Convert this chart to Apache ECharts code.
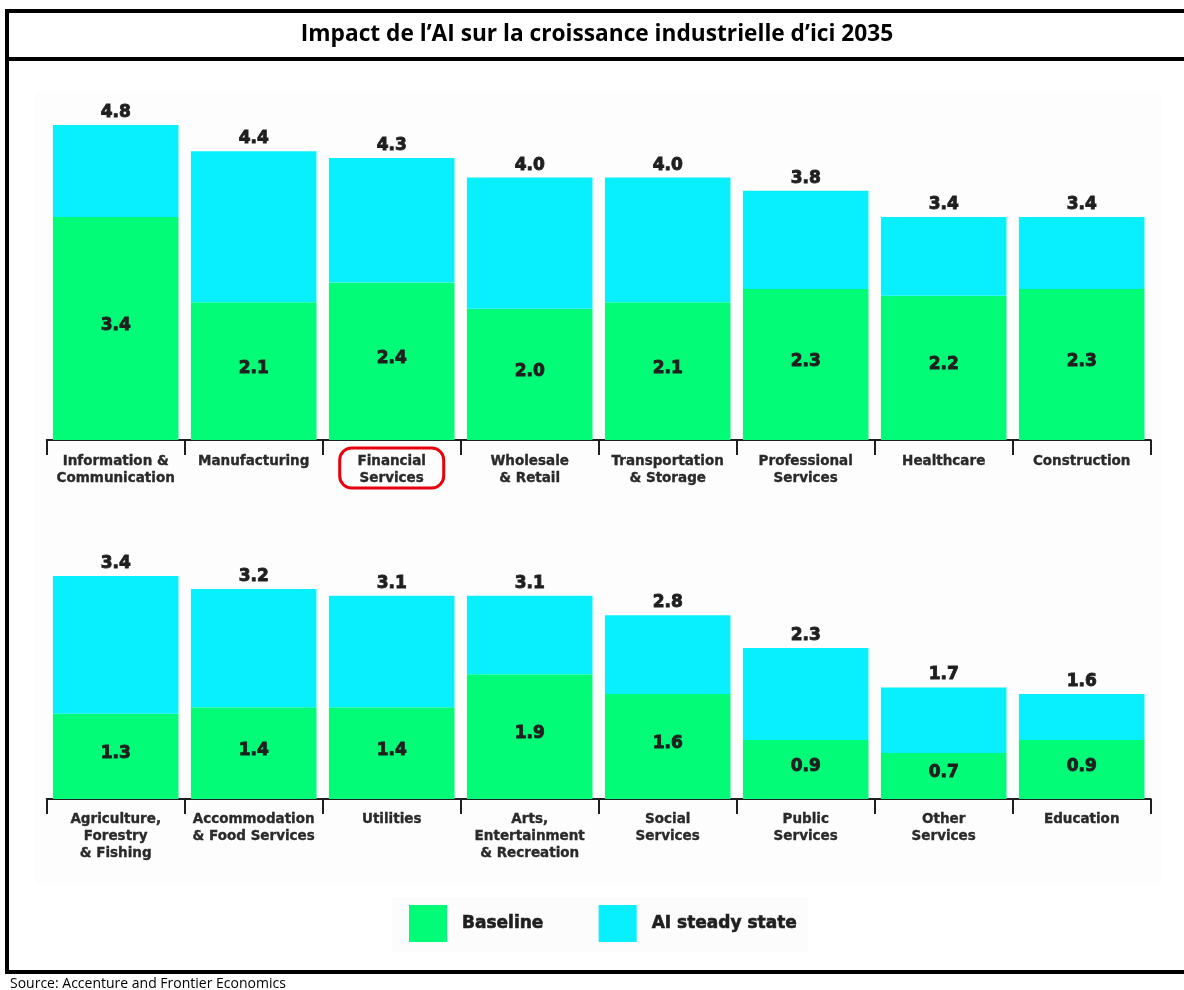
<!DOCTYPE html>
<html>
<head>
<meta charset="utf-8">
<script src="https://cdn.jsdelivr.net/npm/echarts@6/dist/echarts.min.js"></script>
<style>
  html, body { margin: 0; padding: 0; background: #ffffff; }
  #chart { width: 1184px; height: 990px; }
</style>
</head>
<body>
<div id="chart"></div>
<script>
// ---- Data ----
const titleText = 'Impact de l’AI sur la croissance industrielle d’ici 2035';
const sourceText = 'Source: Accenture and Frontier Economics';
const seriesNames = ['Baseline', 'AI steady state'];

const categoriesTop = [
  'Information &\nCommunication', 'Manufacturing', 'Financial\nServices', 'Wholesale\n& Retail',
  'Transportation\n& Storage', 'Professional\nServices', 'Healthcare', 'Construction'
];
const baselineTop = [3.4, 2.1, 2.4, 2.0, 2.1, 2.3, 2.2, 2.3];
const aiTop       = [4.8, 4.4, 4.3, 4.0, 4.0, 3.8, 3.4, 3.4];

const categoriesBottom = [
  'Agriculture,\nForestry\n& Fishing', 'Accommodation\n& Food Services', 'Utilities', 'Arts,\nEntertainment\n& Recreation',
  'Social\nServices', 'Public\nServices', 'Other\nServices', 'Education'
];
const baselineBottom = [1.3, 1.4, 1.4, 1.9, 1.6, 0.9, 0.7, 0.9];
const aiBottom       = [3.4, 3.2, 3.1, 3.1, 2.8, 2.3, 1.7, 1.6];

const highlightedCategory = 'Financial\nServices';

// ---- Styles ----
const GREEN = '#02fc78';
const CYAN = '#08f0fe';
const TEXT = '#1f1f1f';
const HEAVY_FONT = '"DejaVu Sans", sans-serif';

const diff = (tot, base) => tot.map((t, i) => Math.round((t - base[i]) * 10) / 10);

function xAxisFor(idx, cats, margin) {
  return {
    type: 'category', gridIndex: idx, data: cats,
    axisLine: { show: true, lineStyle: { color: TEXT, width: 2 } },
    axisTick: { show: true, alignWithLabel: false, length: 15, lineStyle: { color: TEXT, width: 2 } },
    axisLabel: {
      interval: 0, margin: margin, color: '#2a2a2a', fontFamily: HEAVY_FONT,
      fontWeight: 'bold', fontSize: 13.5, lineHeight: 17,
      textBorderColor: '#2a2a2a', textBorderWidth: 0.35
    }
  };
}
function yAxisFor(idx, max) {
  return { type: 'value', gridIndex: idx, min: 0, max: max, show: false, splitLine: { show: false } };
}
const valueLabelStyle = {
  color: TEXT, fontFamily: HEAVY_FONT, fontWeight: 'bold', fontSize: 17,
  textBorderColor: TEXT, textBorderWidth: 0.9
};
function seriesFor(idx, base, tot) {
  return [
    {
      name: seriesNames[0], type: 'bar', stack: 's' + idx, xAxisIndex: idx, yAxisIndex: idx,
      data: base, barCategoryGap: '9%', itemStyle: { color: GREEN },
      label: Object.assign({
        show: true, position: 'inside', offset: [0, -3],
        formatter: p => base[p.dataIndex].toFixed(1)
      }, valueLabelStyle),
      emphasis: { disabled: true }
    },
    {
      name: seriesNames[1], type: 'bar', stack: 's' + idx, xAxisIndex: idx, yAxisIndex: idx,
      data: diff(tot, base), barCategoryGap: '9%', itemStyle: { color: CYAN },
      label: Object.assign({
        show: true, position: 'top', distance: 4,
        formatter: p => tot[p.dataIndex].toFixed(1)
      }, valueLabelStyle),
      emphasis: { disabled: true }
    }
  ];
}

const chart = echarts.init(document.getElementById('chart'), null, { renderer: 'canvas' });

const PX_PER_UNIT = 65.6;
const topAxisY = 440, bottomAxisY = 799;
const topMax = 5, bottomMax = 4;

const option = {
  animation: false,
  backgroundColor: '#ffffff',
  grid: [
    { left: 46.7, right: 33.3, top: topAxisY - topMax * PX_PER_UNIT, height: topMax * PX_PER_UNIT },
    { left: 46.7, right: 33.3, top: bottomAxisY - bottomMax * PX_PER_UNIT, height: bottomMax * PX_PER_UNIT }
  ],
  xAxis: [xAxisFor(0, categoriesTop, 13), xAxisFor(1, categoriesBottom, 12)],
  yAxis: [yAxisFor(0, topMax), yAxisFor(1, bottomMax)],
  legend: {
    data: seriesNames, left: 409, top: 905, orient: 'horizontal', padding: 0,
    icon: 'rect', itemWidth: 38, itemHeight: 37, itemGap: 55,
    selectedMode: false,
    textStyle: { color: TEXT, fontFamily: HEAVY_FONT, fontWeight: 'bold', fontSize: 17, padding: [4, 0, 0, 10],
      textBorderColor: TEXT, textBorderWidth: 0.6 }
  },
  series: [...seriesFor(0, baselineTop, aiTop), ...seriesFor(1, baselineBottom, aiBottom)],
  graphic: []
};
chart.setOption(option);

// Frame, title, source, highlight box
const cx = chart.convertToPixel({ xAxisIndex: 0 }, highlightedCategory);
chart.setOption({
  graphic: [
    { type: 'rect', z: -10, silent: true, shape: { x: 35, y: 93, width: 1127, height: 790 }, style: { fill: '#fdfdfd' } },
    { type: 'rect', z: -9, silent: true, shape: { x: 392, y: 897, width: 416, height: 55 }, style: { fill: '#fcfcfc' } },
    { type: 'rect', silent: true, shape: { x: 5, y: 9, width: 1179, height: 4 }, style: { fill: '#000' } },
    { type: 'rect', silent: true, shape: { x: 5, y: 57, width: 1179, height: 4 }, style: { fill: '#000' } },
    { type: 'rect', silent: true, shape: { x: 5, y: 970, width: 1179, height: 4 }, style: { fill: '#000' } },
    { type: 'rect', silent: true, shape: { x: 5, y: 9, width: 4, height: 965 }, style: { fill: '#000' } },
    { type: 'text', silent: true, x: 597, y: 35, style: {
        text: titleText, textAlign: 'center', textVerticalAlign: 'middle',
        fill: '#000', fontFamily: '"Open Sans", sans-serif', fontWeight: 'bold', fontSize: 22.7 } },
    { type: 'text', silent: true, x: 10, y: 984, style: {
        text: sourceText, textAlign: 'left', textVerticalAlign: 'middle',
        fill: '#000', fontFamily: '"Open Sans", "Liberation Sans", sans-serif', fontSize: 14 } },
    { type: 'rect', silent: true, z: 100,
      shape: { x: cx - 52, y: 448, width: 104, height: 40, r: 12 },
      style: { fill: 'none', stroke: '#e8000b', lineWidth: 3 } }
  ]
});
</script>
</body>
</html>
